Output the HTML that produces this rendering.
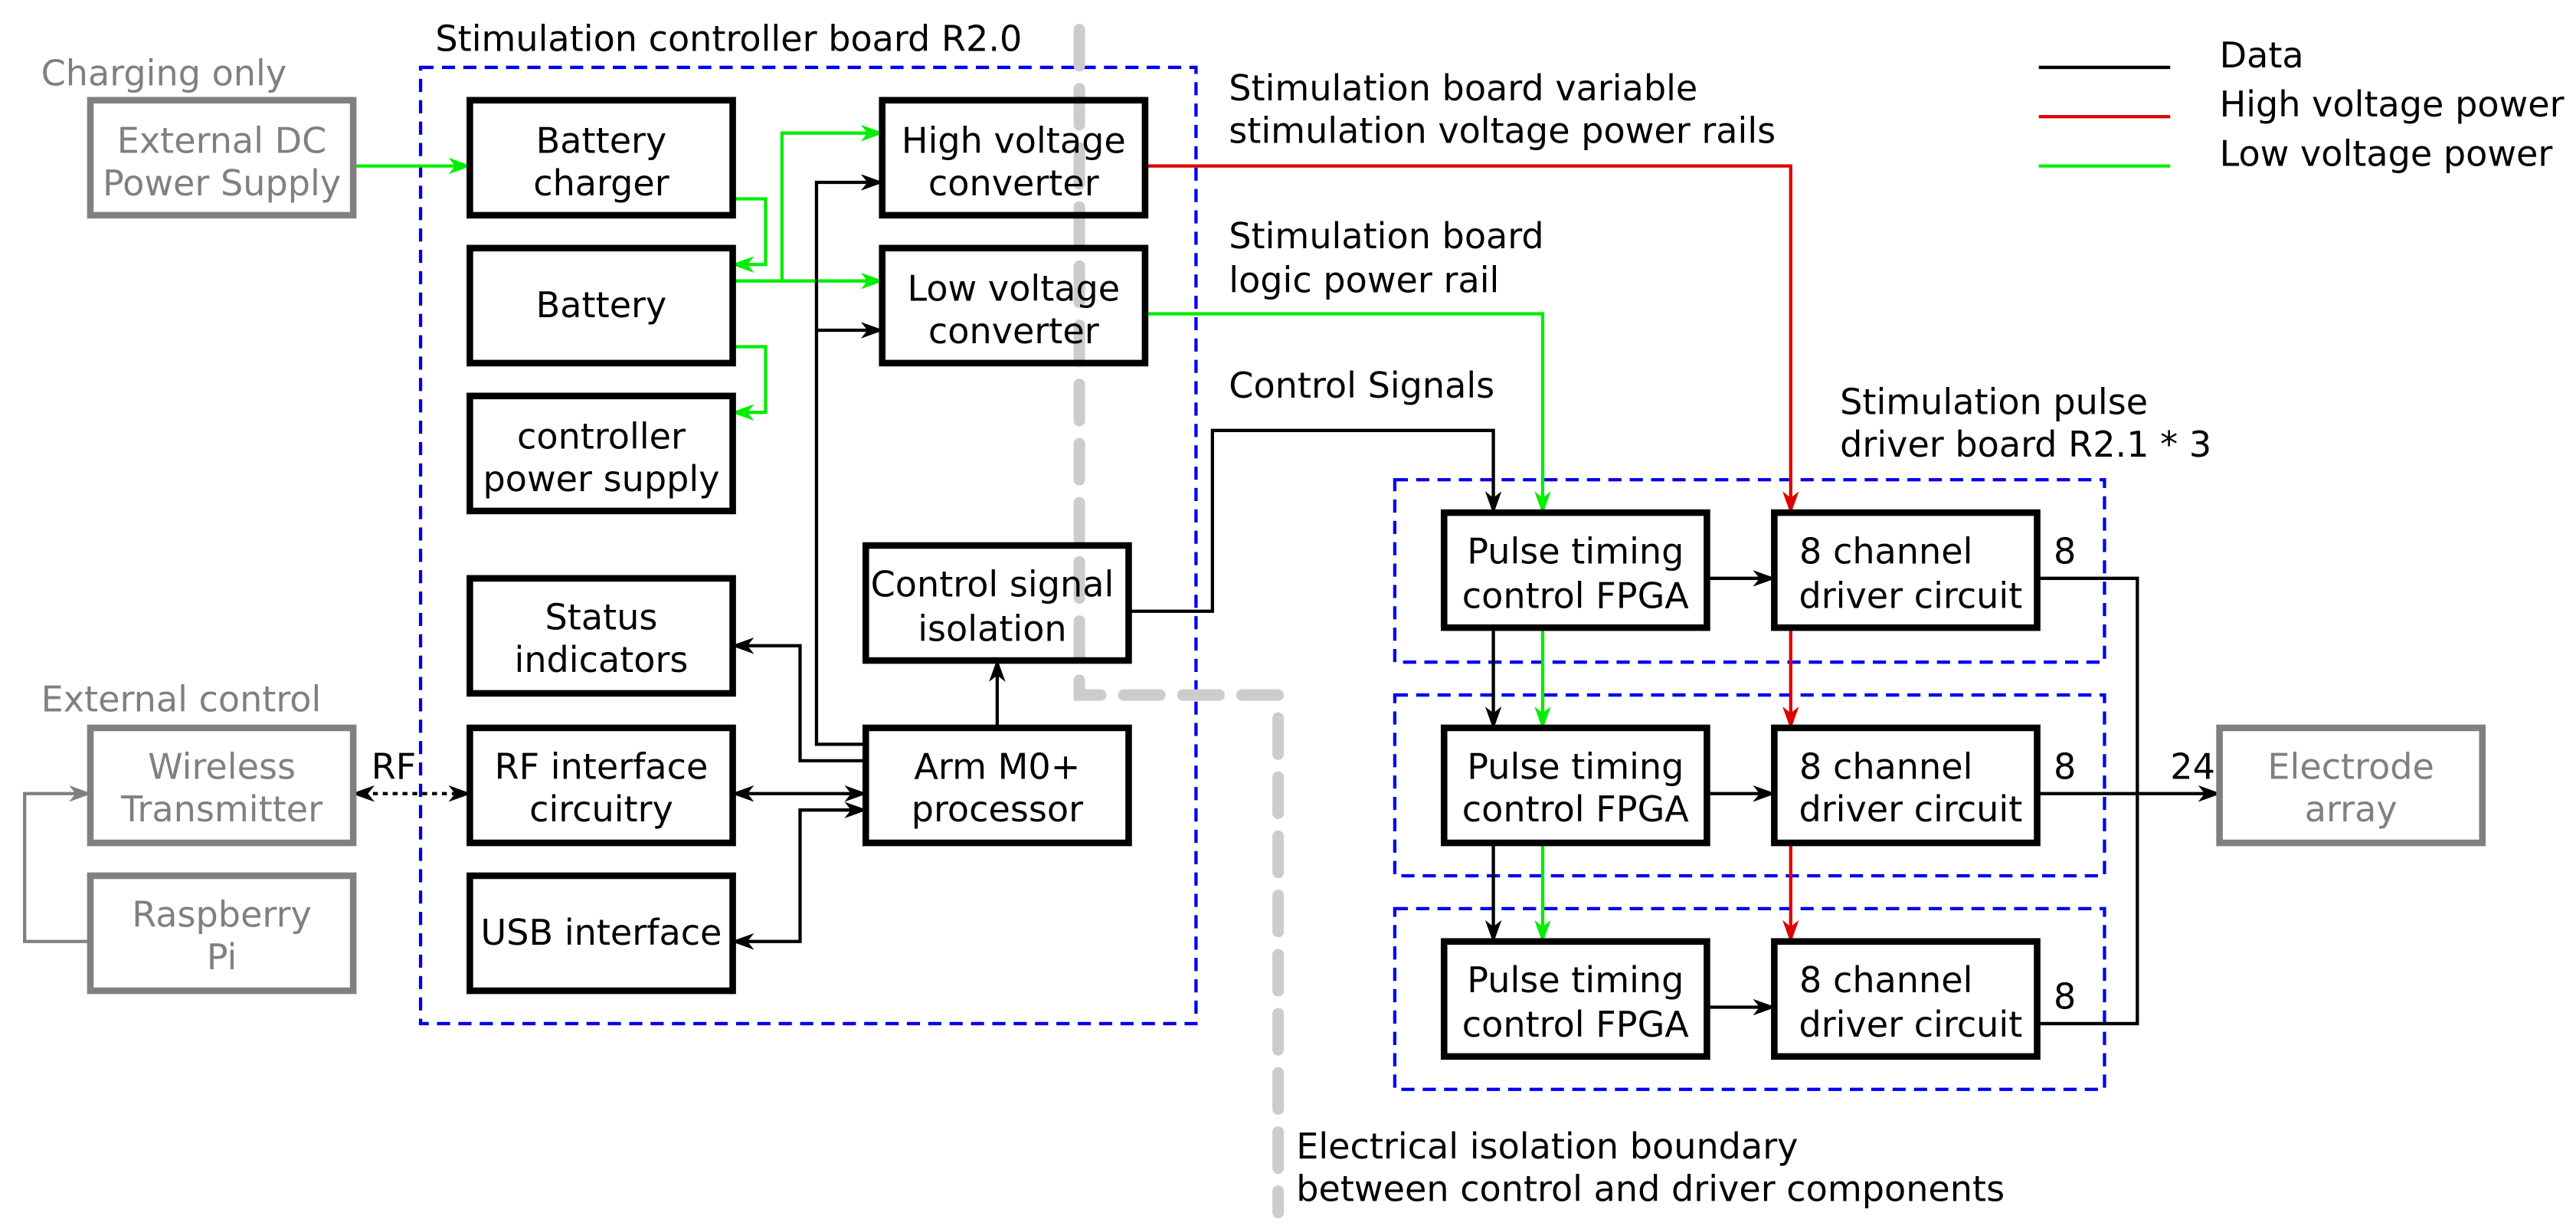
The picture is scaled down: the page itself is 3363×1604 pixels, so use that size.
<!DOCTYPE html>
<html><head><meta charset="utf-8"><style>
html,body{margin:0;padding:0;background:#fff;}
svg{display:block;}
text{font-family:"DejaVu Sans","Liberation Sans",sans-serif;font-size:21.5px;}
</style></head><body>
<svg width="3363" height="1604" viewBox="0 0 1568 748" preserveAspectRatio="none" xmlns="http://www.w3.org/2000/svg">
<defs>
<marker id="ak" markerWidth="14" markerHeight="10" refX="13" refY="5" orient="auto" markerUnits="userSpaceOnUse"><path d="M0,0 L14,5 L0,10 L4,5 Z" fill="#000"/></marker>
<marker id="akr" markerWidth="14" markerHeight="10" refX="1" refY="5" orient="auto" markerUnits="userSpaceOnUse"><path d="M14,0 L0,5 L14,10 L10,5 Z" fill="#000"/></marker>
<marker id="ag" markerWidth="14" markerHeight="10" refX="13" refY="5" orient="auto" markerUnits="userSpaceOnUse"><path d="M0,0 L14,5 L0,10 L4,5 Z" fill="#00ee00"/></marker>
<marker id="ar" markerWidth="14" markerHeight="10" refX="13" refY="5" orient="auto" markerUnits="userSpaceOnUse"><path d="M0,0 L14,5 L0,10 L4,5 Z" fill="#dd0000"/></marker>
<marker id="ay" markerWidth="14" markerHeight="10" refX="13" refY="5" orient="auto" markerUnits="userSpaceOnUse"><path d="M0,0 L14,5 L0,10 L4,5 Z" fill="#808080"/></marker>
</defs>

<g fill="none" stroke="#0000ee" stroke-width="2" stroke-dasharray="8,5">
<rect x="256" y="41" width="472" height="582"/>
<rect x="849" y="292" width="432" height="111"/>
<rect x="849" y="423" width="432" height="110"/>
<rect x="849" y="553" width="432" height="110"/>
</g>

<path d="M657,18 V423 H778 V738" fill="none" stroke="#cccccc" stroke-width="7" stroke-dasharray="22,14" stroke-linecap="round"/>

<g fill="none" stroke="#00ee00" stroke-width="2">
<path d="M215,101 H286" marker-end="url(#ag)"/>
<path d="M446,121 H466 V161 H446" marker-end="url(#ag)"/>
<path d="M446,171 H537" marker-end="url(#ag)"/>
<path d="M476,171 V81 H537" marker-end="url(#ag)"/>
<path d="M446,211 H466 V251 H446" marker-end="url(#ag)"/>
<path d="M697,191 H939 V312" marker-end="url(#ag)"/>
<path d="M939,382 V443" marker-end="url(#ag)"/>
<path d="M939,513 V573" marker-end="url(#ag)"/>
<line x1="1241" y1="101" x2="1321" y2="101"/>
</g>
<g fill="none" stroke="#dd0000" stroke-width="2">
<path d="M697,101 H1090 V312" marker-end="url(#ar)"/>
<path d="M1090,382 V443" marker-end="url(#ar)"/>
<path d="M1090,513 V573" marker-end="url(#ar)"/>
<line x1="1241" y1="71" x2="1321" y2="71"/>
</g>
<g fill="none" stroke="#000" stroke-width="2">
<path d="M527,453 H497 V111 H537" marker-end="url(#ak)"/>
<path d="M497,201 H537" marker-end="url(#ak)"/>
<path d="M527,463 H487 V393 H446" marker-end="url(#ak)"/>
<path d="M446,483 H527" marker-end="url(#ak)" marker-start="url(#akr)"/>
<path d="M446,573 H487 V493 H527" marker-end="url(#ak)" marker-start="url(#akr)"/>
<path d="M607,443 V402" marker-end="url(#ak)"/>
<path d="M687,372 H738 V262 H909 V312" marker-end="url(#ak)"/>
<path d="M909,382 V443" marker-end="url(#ak)"/>
<path d="M909,513 V573" marker-end="url(#ak)"/>
<path d="M1039,352 H1080" marker-end="url(#ak)"/>
<path d="M1039,483 H1080" marker-end="url(#ak)"/>
<path d="M1039,613 H1080" marker-end="url(#ak)"/>
<path d="M1240,352 H1301 V623 H1240"/>
<path d="M1240,483 H1351" marker-end="url(#ak)"/>
<path d="M215,483 H286" stroke-dasharray="3,3" marker-end="url(#ak)" marker-start="url(#akr)"/>
<line x1="1241" y1="41" x2="1321" y2="41"/>
</g>
<path d="M55,573 H15 V483 H55" fill="none" stroke="#808080" stroke-width="2" marker-end="url(#ay)"/>

<g fill="#fff" stroke="#000" stroke-width="4">
<rect x="286" y="61" width="160" height="70"/>
<rect x="286" y="151" width="160" height="70"/>
<rect x="286" y="241" width="160" height="70"/>
<rect x="286" y="352" width="160" height="70"/>
<rect x="286" y="443" width="160" height="70"/>
<rect x="286" y="533" width="160" height="70"/>
<rect x="537" y="61" width="160" height="70" fill="none"/>
<rect x="537" y="151" width="160" height="70" fill="none"/>
<rect x="527" y="332" width="160" height="70" fill="none"/>
<rect x="527" y="443" width="160" height="70"/>
<rect x="879" y="312" width="160" height="70"/>
<rect x="879" y="443" width="160" height="70"/>
<rect x="879" y="573" width="160" height="70"/>
<rect x="1080" y="312" width="160" height="70"/>
<rect x="1080" y="443" width="160" height="70"/>
<rect x="1080" y="573" width="160" height="70"/>
</g>
<g fill="#fff" stroke="#808080" stroke-width="4">
<rect x="55" y="61" width="160" height="70"/>
<rect x="55" y="443" width="160" height="70"/>
<rect x="55" y="533" width="160" height="70"/>
<rect x="1351" y="443" width="160" height="70"/>
</g>

<g text-anchor="middle" fill="#000">
<text x="366" y="93">Battery</text><text x="366" y="119">charger</text>
<text x="366" y="193">Battery</text>
<text x="366" y="273">controller</text><text x="366" y="299">power supply</text>
<text x="366" y="383">Status</text><text x="366" y="409">indicators</text>
<text x="366" y="474">RF interface</text><text x="366" y="500">circuitry</text>
<text x="366" y="575">USB interface</text>
<text x="617" y="93">High voltage</text><text x="617" y="119">converter</text>
<text x="617" y="183">Low voltage</text><text x="617" y="209">converter</text>
<text x="604" y="363">Control signal</text><text x="604" y="390">isolation</text>
<text x="607" y="474">Arm M0+</text><text x="607" y="500">processor</text>
<text x="959" y="343">Pulse timing</text><text x="959" y="370">control FPGA</text>
<text x="959" y="474">Pulse timing</text><text x="959" y="500">control FPGA</text>
<text x="959" y="604">Pulse timing</text><text x="959" y="631">control FPGA</text>
<text x="1148" y="343">8 channel</text><text x="1163" y="370">driver circuit</text>
<text x="1148" y="474">8 channel</text><text x="1163" y="500">driver circuit</text>
<text x="1148" y="604">8 channel</text><text x="1163" y="631">driver circuit</text>
</g>
<g text-anchor="middle" fill="#808080">
<text x="135" y="93">External DC</text><text x="135" y="119">Power Supply</text>
<text x="135" y="474">Wireless</text><text x="135" y="500">Transmitter</text>
<text x="135" y="564">Raspberry</text><text x="135" y="590">Pi</text>
<text x="1431" y="474">Electrode</text><text x="1431" y="500">array</text>
</g>

<g fill="#000">
<text x="265" y="31">Stimulation controller board R2.0</text>
<text x="748" y="61">Stimulation board variable</text>
<text x="748" y="87">stimulation voltage power rails</text>
<text x="748" y="151">Stimulation board</text>
<text x="748" y="178">logic power rail</text>
<text x="748" y="242">Control Signals</text>
<text x="1120" y="252">Stimulation pulse</text>
<text x="1120" y="278">driver board R2.1 * 3</text>
<text x="1250" y="343">8</text>
<text x="1250" y="474">8</text>
<text x="1250" y="614">8</text>
<text x="1321" y="474">24</text>
<text x="226" y="474">RF</text>
<text x="789" y="705">Electrical isolation boundary</text>
<text x="789" y="731">between control and driver components</text>
<text x="1351" y="41">Data</text>
<text x="1351" y="71">High voltage power</text>
<text x="1351" y="101">Low voltage power</text>
</g>
<g fill="#808080">
<text x="25" y="52">Charging only</text>
<text x="25" y="433">External control</text>
</g>
</svg>
</body></html>
